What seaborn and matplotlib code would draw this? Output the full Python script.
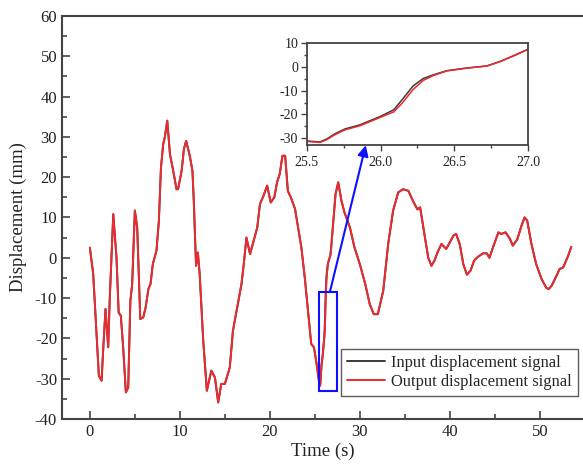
import numpy as np
import pandas as pd
import seaborn as sns
import matplotlib.pyplot as plt
from matplotlib.patches import Rectangle, ConnectionPatch
from matplotlib.ticker import MultipleLocator

# signal (time in s, displacement in mm)
t_a = [0, 0.37, 0.74, 1.0, 1.3, 1.5, 1.74, 2.04, 2.2, 2.6, 2.96, 3.2, 3.44, 3.7,
       4.0, 4.26, 4.5, 4.7, 5.0, 5.26, 5.6, 5.93, 6.2, 6.5, 6.74, 7.0, 7.4, 7.67,
       7.9, 8.15, 8.33, 8.6, 8.9, 9.26, 9.63, 9.8, 10.2, 10.45, 10.7, 11.1, 11.4,
       11.55, 11.8, 12.0, 12.2, 12.6, 13.0, 13.5, 13.9, 14.26, 14.6, 15.0, 15.55,
       15.9, 16.3, 16.85, 17.1, 17.4, 17.8, 18.3, 18.6, 18.9, 19.3, 19.7, 20.1,
       20.5, 20.8, 21.1, 21.4, 21.7, 22.0, 22.4, 22.8, 23.5, 23.9, 24.26, 24.6,
       24.9, 25.2]
d_a = [2.5, -4, -19, -29.3, -30.5, -22, -12.7, -22.2, -10.7, 10.8, 0, -13.6, -14.4,
       -22.2, -33.4, -32.2, -10.7, -6.5, 11.7, 7.5, -15.2, -14.8, -12.3, -7.8, -6.5,
       -1.5, 1.7, 9.2, 22.4, 28.2, 29.9, 34, 25.7, 21.6, 17, 17, 21.6, 27, 29, 25.3,
       21.6, 14, -2, 1.3, -4, -20.6, -33, -28, -29.7, -35.9, -31.3, -31.3, -27.2,
       -18.1, -13.2, -6.5, -1.6, 5, 0.9, 5, 7.5, 13.3, 15.4, 17.9, 13.7, 15, 18.7,
       20.8, 25.3, 25.3, 16.6, 14.6, 12.1, 2.6, -5.3, -13.5, -21.4, -22.2, -26.4]

# zoomed part, 25.5 s - 27 s
inset_t = [25.5, 25.59, 25.635, 25.69, 25.76, 25.86, 26.0, 26.09, 26.15, 26.22,
           26.29, 26.36, 26.45, 26.58, 26.72, 26.81, 26.9, 27.0]
inset_in = [-31.2, -31.6, -30.4, -28.2, -26.1, -24.4, -20.8, -18.0, -13.5, -8.0,
            -4.8, -3.2, -1.5, -0.4, 0.5, 2.4, 4.8, 7.6]
inset_out = [-31.4, -31.8, -30.7, -28.6, -26.5, -24.8, -21.2, -18.9, -15.0, -9.5,
             -5.6, -3.5, -1.6, -0.5, 0.45, 2.3, 4.7, 7.5]

t_b = [27.3, 27.6, 27.96, 28.3, 28.9, 29.4, 30.0, 30.6, 31.1, 31.55, 32.0, 32.6,
       33.15, 33.7, 34.26, 34.8, 35.4, 35.9, 36.4, 36.7, 37.2, 37.6, 37.96, 38.3,
       38.7, 39.07, 39.6, 40.0, 40.4, 40.7, 41.1, 41.5, 41.9, 42.3, 42.7, 43.1,
       43.7, 44.1, 44.4, 44.8, 45.4, 45.7, 46.2, 46.7, 47.0, 47.5, 47.96, 48.3,
       48.6, 49.07, 49.6, 50.2, 50.7, 50.96, 51.3, 51.85, 52.2, 52.6, 53.15, 53.5]
d_b = [15.8, 18.7, 14.1, 11.2, 7.5, 2.6, -1.6, -6.5, -11.5, -14, -14, -8.2, 3.4,
       11.7, 16.2, 17, 16.6, 14.1, 12, 12.5, 5.5, 0, -2, -0.7, 1.7, 3.4, 2.2, 3.8,
       5.5, 5.9, 3.4, -1.6, -4.2, -3.2, -0.7, 0.2, 1.1, 1.1, 0, 2.6, 6.3, 5.9, 6.3,
       4.6, 3, 4.6, 7.9, 10, 9.2, 3.4, -1.6, -5.3, -7.4, -7.8, -7, -4.5, -2.8, -2.4,
       0.5, 2.7]

time = np.array(t_a + inset_t + t_b)
sig_in = np.array(d_a + inset_in + d_b)
sig_out = np.array(d_a + inset_out + d_b)

df = pd.DataFrame({"time": time, "in": sig_in, "out": sig_out})
dz = pd.DataFrame({"time": inset_t, "in": inset_in, "out": inset_out})

sns.set_theme(style="ticks")
plt.rcParams['font.family'] = ['Liberation Serif', 'DejaVu Serif']
plt.rcParams['axes.unicode_minus'] = False

red = '#ec2a30'
dark = '#3a3a3a'
spine_c = '#444444'

fig = plt.figure(figsize=(5.83, 4.67), dpi=100)
ax = fig.add_axes([0.1063, 0.1028, 1 - 0.1063, 0.966 - 0.1028])

sns.lineplot(data=df, x="time", y="in", color=dark, lw=1.4, ax=ax,
             label="Input displacement signal")
sns.lineplot(data=df, x="time", y="out", color=red, lw=1.4, ax=ax,
             label="Output displacement signal")

ax.set_xlim(-3.1, 54.8)
ax.set_ylim(-40, 60)
ax.xaxis.set_major_locator(MultipleLocator(10))
ax.xaxis.set_minor_locator(MultipleLocator(5))
ax.yaxis.set_major_locator(MultipleLocator(10))
ax.yaxis.set_minor_locator(MultipleLocator(5))
ax.tick_params(which='both', direction='in', colors=spine_c, labelcolor='#222222',
               labelsize=12, width=1.2)
ax.tick_params(which='major', length=6)
ax.tick_params(which='minor', length=3.5)
for s in ['left', 'bottom', 'top']:
    ax.spines[s].set_color(spine_c)
    ax.spines[s].set_linewidth(1.5)
ax.spines['right'].set_visible(False)
ax.set_xlabel("Time (s)", fontsize=13.5, color='#222222', labelpad=2)
ax.set_ylabel("Displacement (mm)", fontsize=13.5, color='#222222', labelpad=6)

leg = ax.legend(loc='lower right', bbox_to_anchor=(0.99, 0.057), fontsize=11.9,
                frameon=True, fancybox=False, handlelength=2.3, borderpad=0.35,
                labelspacing=0.2, handletextpad=0.4, borderaxespad=0)
leg.get_frame().set_edgecolor('#333333')
leg.get_frame().set_linewidth(1.0)

# box around the zoomed part
ax.add_patch(Rectangle((25.48, -33), 2.0, 24.5, fill=False, edgecolor='#1010ff',
                       lw=1.5, zorder=5))

# inset
axins = fig.add_axes([0.526, 0.689, 0.380, 0.218])
sns.lineplot(data=dz, x="time", y="in", color=dark, lw=1.1, ax=axins)
sns.lineplot(data=dz, x="time", y="out", color=red, lw=1.1, ax=axins)
axins.set_xlim(25.5, 27.0)
axins.set_ylim(-33, 10)
axins.xaxis.set_major_locator(MultipleLocator(0.5))
axins.xaxis.set_minor_locator(MultipleLocator(0.25))
axins.yaxis.set_major_locator(MultipleLocator(10))
axins.yaxis.set_minor_locator(MultipleLocator(5))
axins.xaxis.set_major_formatter(plt.FormatStrFormatter('%.1f'))
axins.tick_params(which='both', direction='out', colors=spine_c,
                  labelcolor='#222222', labelsize=10, width=1.0)
axins.tick_params(which='major', length=4)
axins.tick_params(which='minor', length=2.5)
axins.tick_params(axis='y', pad=2)
for s in axins.spines.values():
    s.set_color(spine_c)
    s.set_linewidth(1.3)
axins.set_xlabel("")
axins.set_ylabel("")

arrow = ConnectionPatch(xyA=(26.67, -8.5), coordsA=ax.transData,
                        xyB=(25.9, -33), coordsB=axins.transData,
                        arrowstyle='-|>', color='#1010ff', lw=1.5,
                        mutation_scale=16, zorder=6)
fig.add_artist(arrow)

fig.savefig("out.png", dpi=100)
